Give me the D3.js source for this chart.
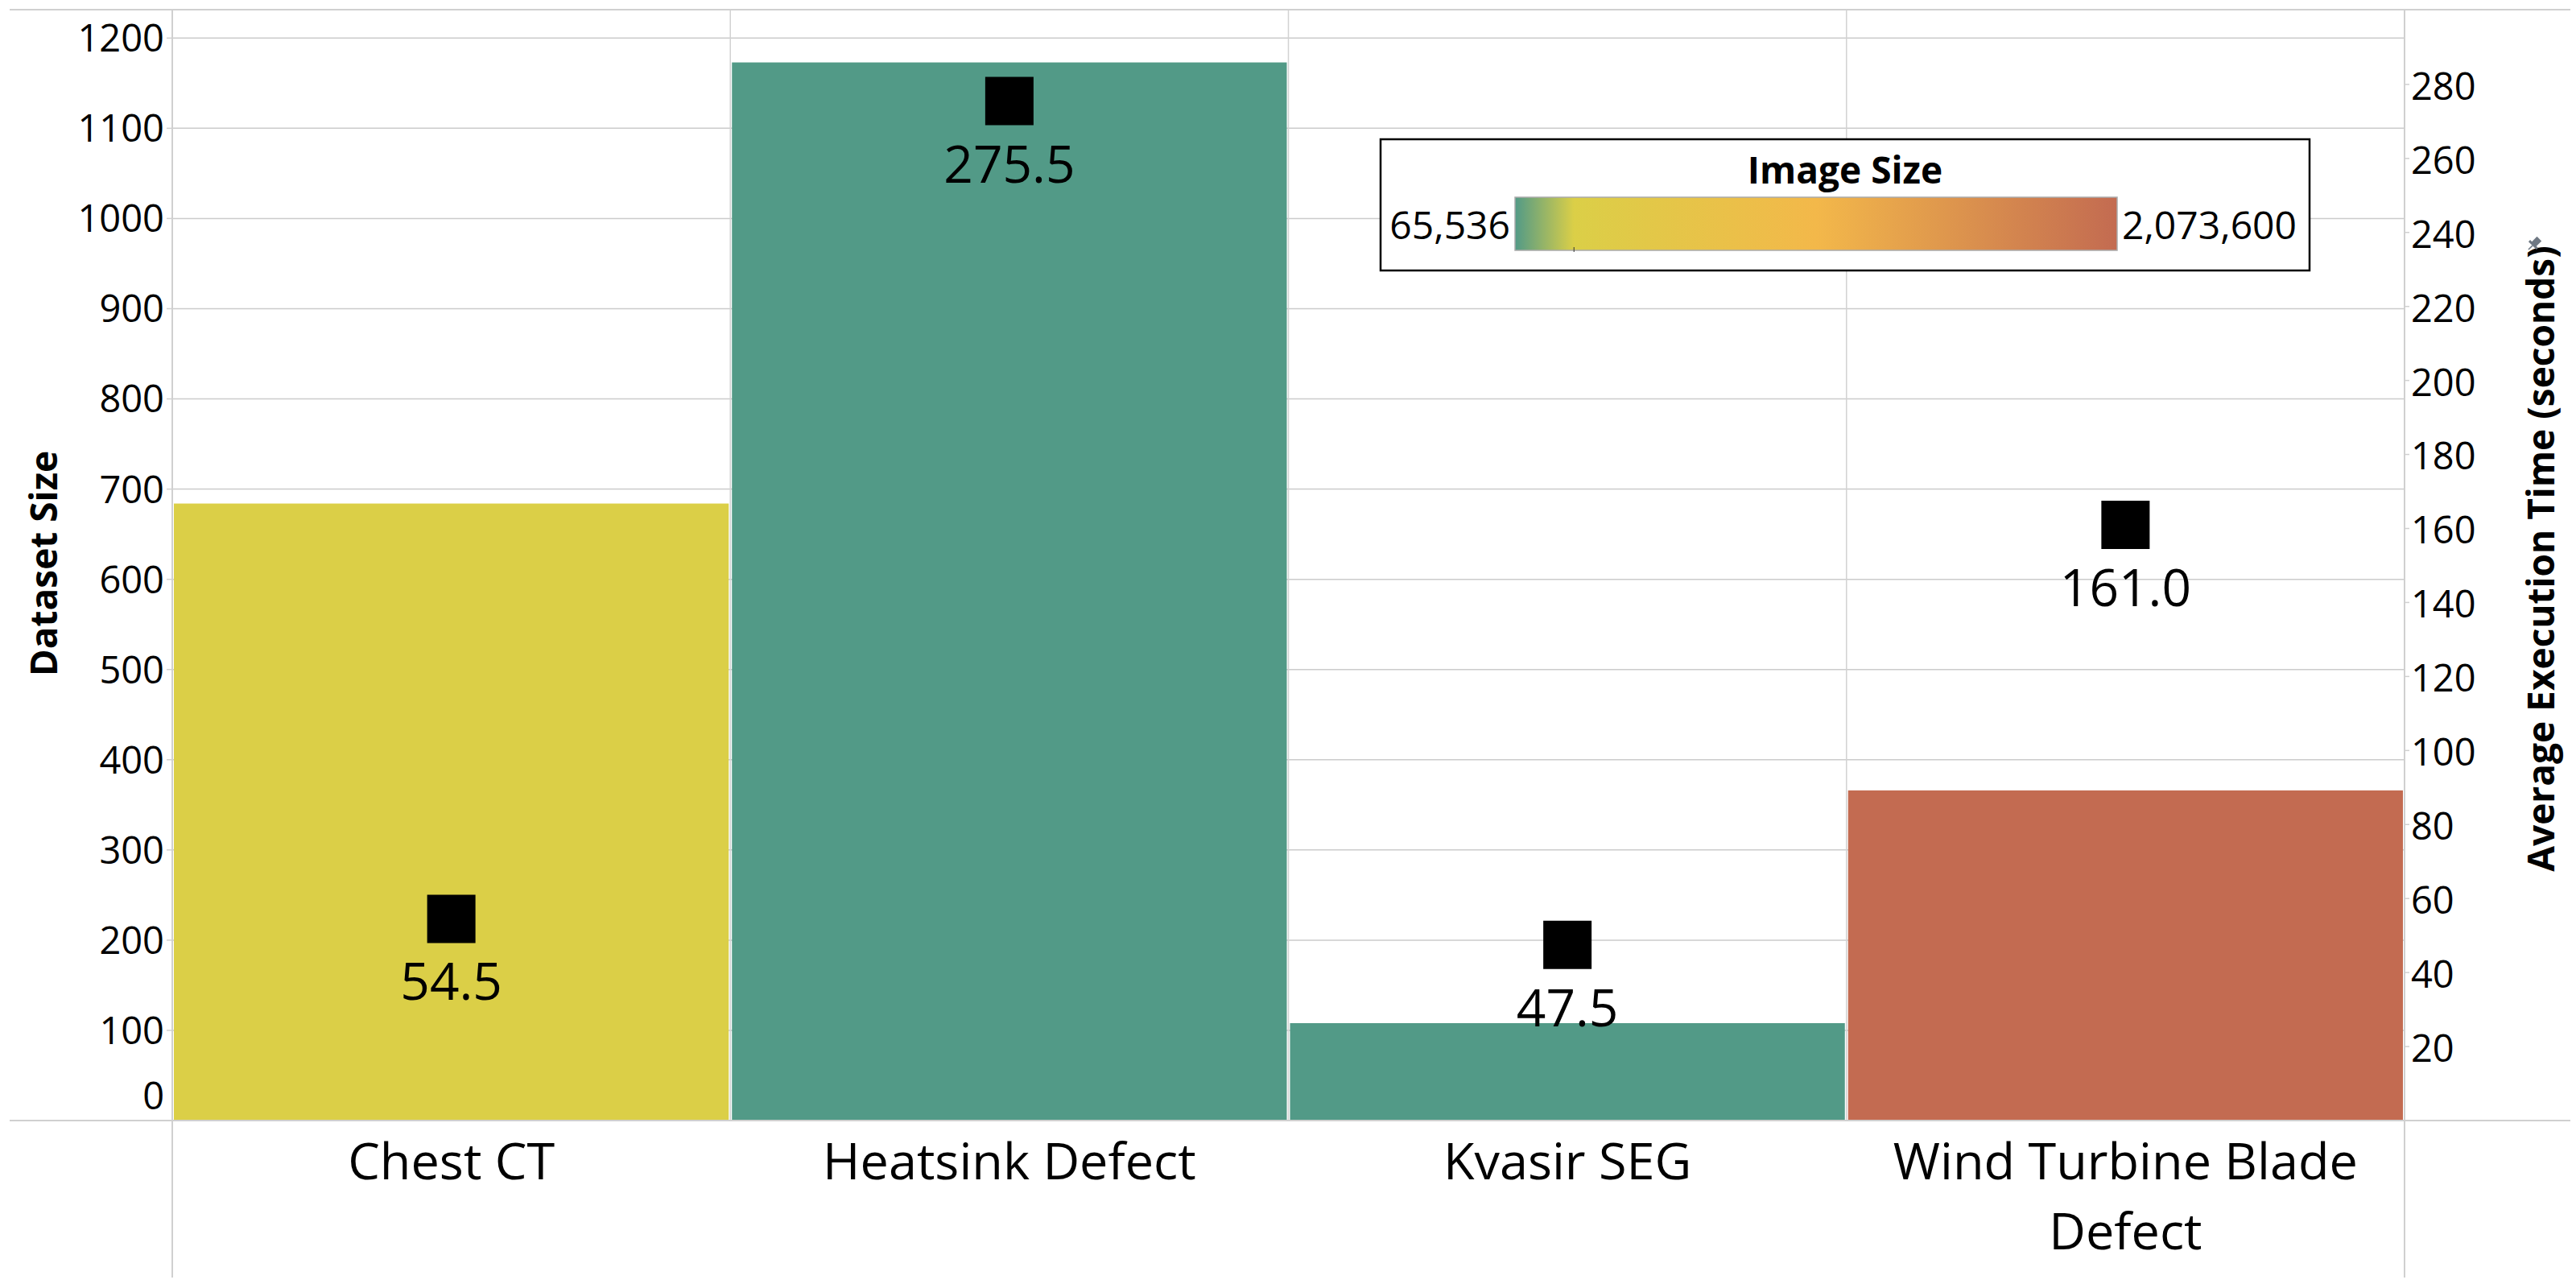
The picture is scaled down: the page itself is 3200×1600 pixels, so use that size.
<!DOCTYPE html>
<html>
<head>
<meta charset="utf-8">
<script src="https://cdn.jsdelivr.net/npm/d3@7"></script>
<style>
  body { margin: 0; background: #fff; }
  text { font-family: "Open Sans", "Noto Sans", sans-serif; fill: #000; }
</style>
</head>
<body>
<div id="chart-area"></div>
<script>
/*
*    dataset size (bars) + average execution time (squares)
*/
var categories = ["Chest CT", "Heatsink Defect", "Kvasir SEG", "Wind Turbine Blade Defect"];
var datasetSize = [684, 1173, 108, 366];
var avgExecTime = [54.5, 275.5, 47.5, 161.0];
var imageSize = [262144, 65536, 65536, 2073600];

var leftTicks = [0, 100, 200, 300, 400, 500, 600, 700, 800, 900, 1000, 1100, 1200];
var rightTicks = [20, 40, 60, 80, 100, 120, 140, 160, 180, 200, 220, 240, 260, 280];

var legendStops = [65536, 262144, 1069568, 2073600];
var legendColors = ["#529a87", "#dbcf47", "#f3b84a", "#c36b51"];

var svg = d3.select("#chart-area").append("svg")
                .attr("width", 3200)
                .attr("height", 1600);

var x = d3.scaleBand()
        .domain(categories)
        .range([214, 2987]);

var yL = d3.scaleLinear()
        .domain([0, 1231.5])
        .range([1392, 12]);

var yR = d3.scaleLinear()
        .domain([0, 300.2])
        .range([1392, 12]);

var color = d3.scaleLinear()
        .domain(legendStops)
        .range(legendColors);

var data = categories.map((c, i) => {
    return { name: c, size: datasetSize[i], time: avgExecTime[i], img: imageSize[i] };
});

// grid lines (left axis)
svg.selectAll(".grid")
    .data(leftTicks.filter((v) => v > 0))
    .enter().append("line")
        .attr("class", "grid")
        .attr("x1", 214).attr("x2", 2987)
        .attr("y1", (d) => yL(d)).attr("y2", (d) => yL(d))
        .attr("stroke", "#cbcbcb")
        .attr("stroke-width", 1.5);

// column dividers
svg.selectAll(".divider")
    .data(categories.slice(1))
    .enter().append("line")
        .attr("x1", (d) => x(d)).attr("x2", (d) => x(d))
        .attr("y1", 12).attr("y2", 1392)
        .attr("stroke", "#d2d2d2")
        .attr("stroke-width", 1.5);

// bars
svg.selectAll(".bar")
    .data(data)
    .enter().append("rect")
        .attr("class", "bar")
        .attr("x", (d) => x(d.name) + 2)
        .attr("width", x.bandwidth() - 4)
        .attr("y", (d) => yL(d.size))
        .attr("height", (d) => yL(0) - yL(d.size))
        .attr("fill", (d) => color(d.img));

// frame
var frame = [
    [12, 12, 3193, 12],
    [12, 1392, 3193, 1392],
    [214, 12, 214, 1587],
    [2987, 12, 2987, 1587]
];
svg.selectAll(".frame")
    .data(frame)
    .enter().append("line")
        .attr("x1", (d) => d[0]).attr("y1", (d) => d[1])
        .attr("x2", (d) => d[2]).attr("y2", (d) => d[3])
        .attr("stroke", "#d0d0d0")
        .attr("stroke-width", 2);

// axis tick marks
svg.selectAll(".ltick")
    .data(leftTicks)
    .enter().append("line")
        .attr("x1", 207).attr("x2", 214)
        .attr("y1", (d) => yL(d)).attr("y2", (d) => yL(d))
        .attr("stroke", "#d0d0d0").attr("stroke-width", 1.5);
svg.selectAll(".rtick")
    .data(rightTicks)
    .enter().append("line")
        .attr("x1", 2987).attr("x2", 2993)
        .attr("y1", (d) => yR(d)).attr("y2", (d) => yR(d))
        .attr("stroke", "#d0d0d0").attr("stroke-width", 1.5);

// tick labels
svg.selectAll(".llabel")
    .data(leftTicks)
    .enter().append("text")
        .attr("x", 204)
        .attr("y", (d) => Math.min(yL(d), 1361))
        .attr("dy", "0.36em")
        .attr("text-anchor", "end")
        .attr("font-size", 47)
        .text((d) => d);
svg.selectAll(".rlabel")
    .data(rightTicks)
    .enter().append("text")
        .attr("x", 2995)
        .attr("y", (d) => yR(d) + 2)
        .attr("dy", "0.36em")
        .attr("font-size", 47)
        .text((d) => d);

// axis titles
svg.append("text")
    .attr("transform", "translate(71,700) rotate(-90)")
    .attr("text-anchor", "middle")
    .attr("font-size", 46)
    .attr("font-weight", "bold")
    .text("Dataset Size");
svg.append("text")
    .attr("transform", "translate(3173,694) rotate(-90)")
    .attr("text-anchor", "middle")
    .attr("font-size", 46)
    .attr("font-weight", "bold")
    .text("Average Execution Time (seconds)");

// little pin icon
var pin = svg.append("g").attr("transform", "translate(3148,303) rotate(45)");
pin.append("rect").attr("x", -4).attr("y", -9).attr("width", 8).attr("height", 10).attr("fill", "#6f7883");
pin.append("rect").attr("x", -7).attr("y", 0).attr("width", 14).attr("height", 3).attr("fill", "#6f7883");
pin.append("line").attr("x1", 0).attr("x2", 0).attr("y1", 3).attr("y2", 10).attr("stroke", "#6f7883").attr("stroke-width", 1.5);

// execution-time markers
svg.selectAll(".marker")
    .data(data)
    .enter().append("path")
        .attr("d", d3.symbol().type(d3.symbolSquare).size(3600))
        .attr("transform", (d) => "translate(" + (x(d.name) + x.bandwidth() / 2) + "," + yR(d.time) + ")")
        .attr("fill", "#000");

svg.selectAll(".vlabel")
    .data(data)
    .enter().append("text")
        .attr("x", (d) => x(d.name) + x.bandwidth() / 2)
        .attr("y", (d) => yR(d.time) + 101)
        .attr("text-anchor", "middle")
        .attr("font-size", 64)
        .text((d) => d3.format(".1f")(d.time));

// category labels, wrapped
var xl = svg.selectAll(".xlabel")
    .data(categories)
    .enter().append("text")
        .attr("x", (d) => x(d) + x.bandwidth() / 2)
        .attr("y", 1465)
        .attr("text-anchor", "middle")
        .attr("font-size", 63);

xl.each(function(d) {
    var el = d3.select(this);
    var words = d.split(" ");
    var cx = x(d) + x.bandwidth() / 2;
    var line = [];
    var lineNo = 0;
    var tspan = el.append("tspan").attr("x", cx).attr("dy", 0);
    words.forEach((w) => {
        line.push(w);
        tspan.text(line.join(" "));
        if (tspan.node().getComputedTextLength() > x.bandwidth() - 40 && line.length > 1) {
            line.pop();
            tspan.text(line.join(" "));
            line = [w];
            lineNo++;
            tspan = el.append("tspan").attr("x", cx).attr("dy", 87).text(w);
        }
    });
});

// colour legend
var defs = svg.append("defs");
var grad = defs.append("linearGradient").attr("id", "imgGrad")
    .attr("x1", "0%").attr("x2", "100%").attr("y1", "0%").attr("y2", "0%");
var lx = d3.scaleLinear()
        .domain([legendStops[0], legendStops[legendStops.length - 1]])
        .range([1882, 2630]);
grad.selectAll("stop")
    .data(legendStops)
    .enter().append("stop")
        .attr("offset", (d) => ((lx(d) - 1882) / 748 * 100) + "%")
        .attr("stop-color", (d) => color(d));

svg.append("rect")
    .attr("x", 1715).attr("y", 173)
    .attr("width", 1154).attr("height", 163)
    .attr("fill", "#fff")
    .attr("stroke", "#000")
    .attr("stroke-width", 2.5);

svg.append("text")
    .attr("x", 2292).attr("y", 228)
    .attr("text-anchor", "middle")
    .attr("font-size", 46)
    .attr("font-weight", "bold")
    .text("Image Size");

svg.append("rect")
    .attr("x", lx.range()[0]).attr("y", 245)
    .attr("width", lx.range()[1] - lx.range()[0]).attr("height", 66)
    .attr("fill", "url(#imgGrad)")
    .attr("stroke", "#aaa")
    .attr("stroke-width", 1.5);

svg.append("line")
    .attr("x1", lx(imageSize[0])).attr("x2", lx(imageSize[0]))
    .attr("y1", 307).attr("y2", 313)
    .attr("stroke", "#333").attr("stroke-width", 1);

svg.append("text")
    .attr("x", 1876).attr("y", 297)
    .attr("text-anchor", "end")
    .attr("font-size", 48)
    .text(d3.format(",")(legendStops[0]));
svg.append("text")
    .attr("x", 2636).attr("y", 297)
    .attr("font-size", 48)
    .text(d3.format(",")(legendStops[legendStops.length - 1]));
</script>
</body>
</html>
